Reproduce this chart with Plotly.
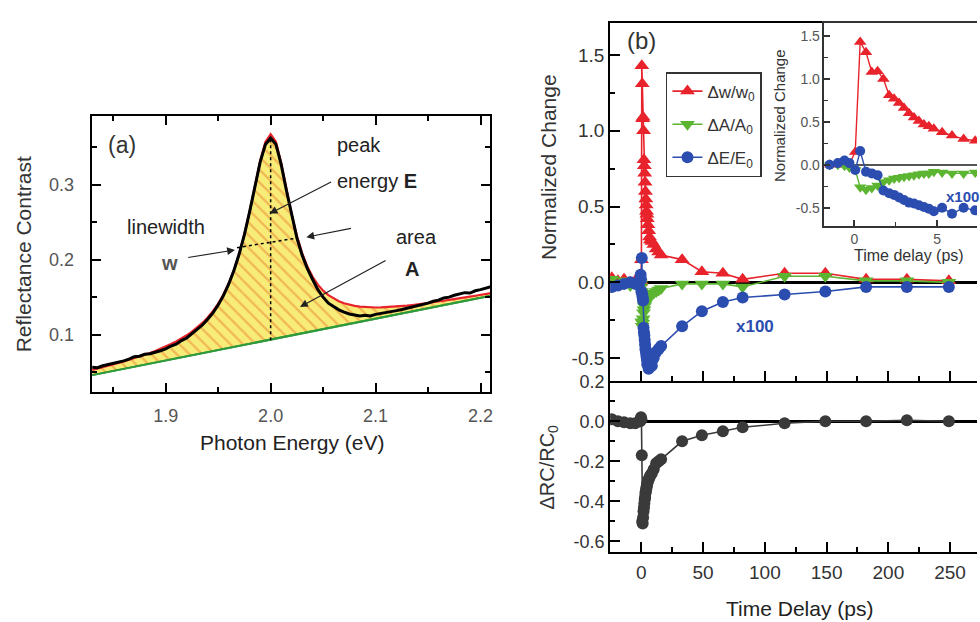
import numpy as np
import plotly.graph_objects as go

# ---------------- Panel (a) data ----------------
energy = np.round(np.linspace(1.83, 2.21, 77), 4)
rc_data = [0.0565, 0.0560, 0.0585, 0.0600, 0.0615, 0.0640, 0.0650, 0.0672, 0.0705, 0.0712,
           0.0738, 0.0745, 0.0760, 0.0785, 0.0810, 0.0848, 0.0872, 0.0920, 0.0955, 0.1010,
           0.1065, 0.1128, 0.1205, 0.1290, 0.1395, 0.1520, 0.1672, 0.1855, 0.2075, 0.2335,
           0.2640, 0.2975, 0.3300, 0.3535, 0.3620,
           0.3540, 0.3270, 0.2925, 0.2585, 0.2290, 0.2060, 0.1880, 0.1735, 0.1600, 0.1500,
           0.1420, 0.1375, 0.1330, 0.1300, 0.1275, 0.1262, 0.1250, 0.1258, 0.1248, 0.1270,
           0.1280, 0.1295, 0.1300, 0.1320, 0.1335, 0.1350, 0.1365, 0.1385, 0.1400, 0.1420,
           0.1445, 0.1460, 0.1490, 0.1500, 0.1525, 0.1540, 0.1560, 0.1555, 0.1585, 0.1600,
           0.1615, 0.1640]
rc_fit = [0.0528, 0.0545, 0.0564, 0.0583, 0.0602, 0.0622, 0.0642, 0.0663, 0.0685, 0.0708,
          0.0731, 0.0756, 0.0783, 0.0811, 0.0841, 0.0874, 0.0909, 0.0948, 0.0991, 0.1039,
          0.1094, 0.1156, 0.1228, 0.1313, 0.1414, 0.1534, 0.1681, 0.1859, 0.2077, 0.2340,
          0.2647, 0.2986, 0.3316, 0.3569, 0.3674,
          0.3574, 0.3297, 0.2946, 0.2607, 0.2318, 0.2087, 0.1908, 0.1771, 0.1667, 0.1587,
          0.1526, 0.1480, 0.1445, 0.1418, 0.1397, 0.1383, 0.1373, 0.1367, 0.1363, 0.1362,
          0.1363, 0.1366, 0.1369, 0.1374, 0.1381, 0.1387, 0.1395, 0.1403, 0.1412, 0.1421,
          0.1431, 0.1441, 0.1452, 0.1463, 0.1472, 0.1484, 0.1495, 0.1507, 0.1519, 0.1531,
          0.1543, 0.1555]
base_x = [1.83, 2.21]
base_y = [0.046, 0.152]

# ---------------- Panel (b) data ----------------
t_ps = [-24, -19, -14, -9, -5, -1.5, -1.0, -0.6, -0.3, 0.05, 0.35, 0.7, 1.05, 1.4, 1.75,
        2.1, 2.4, 2.7, 3.0, 3.3, 3.6, 3.9, 4.2, 4.5, 4.8, 5.3, 5.9, 6.6, 7.3,
        8.5, 10, 12, 14, 16, 33, 49, 66, 82, 116, 149, 182, 215, 249]
dw = [0.03, 0.01, 0.02, 0.0, 0.01, 0.0, 0.01, 0.0, 0.01, 0.15, 1.43, 1.31, 1.08, 1.09, 1.0,
      0.81, 0.77, 0.72, 0.66, 0.6, 0.55, 0.51, 0.47, 0.45, 0.42, 0.38, 0.34, 0.30, 0.28,
      0.27, 0.25, 0.22, 0.2, 0.18, 0.15, 0.07, 0.06, 0.02, 0.06, 0.06, 0.02, 0.02, 0.01]
dA = [0.02, -0.01, 0.01, -0.02, 0.0, 0.0, 0.0, -0.01, -0.03, -0.06, -0.26, -0.29, -0.27, -0.24, -0.2,
      -0.18, -0.16, -0.15, -0.14, -0.13, -0.12, -0.11, -0.1, -0.1, -0.08, -0.09, -0.1, -0.1, -0.09,
      -0.08, -0.07, -0.06, -0.05, -0.04, -0.01, -0.01, -0.01, -0.03, 0.04, 0.04, 0.01, 0.01, 0.0]
dE = [-0.03, -0.02, -0.01, 0.0, -0.01, 0.0, 0.02, 0.05, 0.02, -0.06, 0.16, -0.08, -0.1, -0.12, -0.3,
      -0.33, -0.35, -0.38, -0.41, -0.44, -0.45, -0.47, -0.49, -0.51, -0.54, -0.5, -0.57, -0.5, -0.53,
      -0.55, -0.5, -0.46, -0.44, -0.42, -0.29, -0.19, -0.13, -0.1, -0.08, -0.06, -0.03, -0.03, -0.03]
dRC = [0.01, 0.0, -0.005, -0.01, -0.01, 0.0, 0.0, 0.01, 0.02, 0.01, -0.17, -0.5, -0.51, -0.48, -0.45,
       -0.43, -0.41, -0.39, -0.38, -0.36, -0.35, -0.34, -0.33, -0.32, -0.31, -0.3, -0.29, -0.28, -0.27,
       -0.26, -0.24, -0.21, -0.2, -0.19, -0.1, -0.07, -0.05, -0.03, -0.01, 0.0, 0.0, 0.005, 0.0]

RED, GREEN, BLUE, DARK = "#e8232b", "#5cb531", "#2c4db0", "#3a3a3a"
FONT = "Liberation Sans, Arial, sans-serif"
W, H = 980, 622

def px(x):
    return x / W

def py(y):
    return 1 - y / H

fig = go.Figure()

# ---- panel (a) ----
fig.add_trace(go.Scatter(x=base_x, y=base_y, mode="lines", line=dict(color="#2f9a3c", width=2),
                         xaxis="x", yaxis="y", showlegend=False, hoverinfo="skip"))
fig.add_trace(go.Scatter(x=energy, y=rc_fit, mode="lines", line=dict(color=RED, width=2.2),
                         fill="tonexty", fillcolor="#f8ec78",
                         fillpattern=dict(shape="\\", bgcolor="#f8ec78", fgcolor="#e97f2e",
                                          size=9, solidity=0.25),
                         xaxis="x", yaxis="y", showlegend=False))
fig.add_trace(go.Scatter(x=energy, y=rc_data, mode="lines", line=dict(color="black", width=3),
                         xaxis="x", yaxis="y", showlegend=False))
fig.add_trace(go.Scatter(x=base_x, y=base_y, mode="lines", line=dict(color="#2f9a3c", width=2),
                         xaxis="x", yaxis="y", showlegend=False))

# ---- panel (b) upper ----
fig.add_trace(go.Scatter(x=t_ps, y=dw, mode="lines+markers", name="\u0394w/w<sub>0</sub>",
                         line=dict(color=RED, width=1.6), marker=dict(symbol="triangle-up", size=13, color=RED),
                         xaxis="x2", yaxis="y2", legendgroup="a"))
fig.add_trace(go.Scatter(x=t_ps, y=dA, mode="lines+markers", name="\u0394A/A<sub>0</sub>",
                         line=dict(color=GREEN, width=1.6), marker=dict(symbol="triangle-down", size=13, color=GREEN),
                         xaxis="x2", yaxis="y2", legendgroup="b"))
fig.add_trace(go.Scatter(x=t_ps, y=dE, mode="lines+markers", name="\u0394E/E<sub>0</sub>",
                         line=dict(color=BLUE, width=1.6), marker=dict(symbol="circle", size=12, color=BLUE),
                         xaxis="x2", yaxis="y2", legendgroup="c"))

# ---- panel (b) lower ----
fig.add_trace(go.Scatter(x=t_ps, y=dRC, mode="lines+markers", line=dict(color=DARK, width=1.6),
                         marker=dict(symbol="circle", size=12, color=DARK),
                         xaxis="x3", yaxis="y3", showlegend=False))

# ---- inset ----
for yy, col, sym, sz in [(dw, RED, "triangle-up", 11), (dA, GREEN, "triangle-down", 11), (dE, BLUE, "circle", 10)]:
    fig.add_trace(go.Scatter(x=t_ps, y=yy, mode="lines+markers", line=dict(color=col, width=1.4),
                             marker=dict(symbol=sym, size=sz, color=col),
                             xaxis="x4", yaxis="y4", showlegend=False))

tickfont_a = dict(family=FONT, size=18, color="#555555")
tickfont_b = dict(family=FONT, size=19, color="#333333")
tickfont_i = dict(family=FONT, size=14, color="#555555")

common = dict(showgrid=False, zeroline=False, showline=True, linecolor="black", linewidth=2,
              ticks="inside", tickwidth=2, tickcolor="black")

layout = dict(
    width=W, height=H, margin=dict(l=0, r=0, t=0, b=0),
    paper_bgcolor="white", plot_bgcolor="rgba(0,0,0,0)",
    font=dict(family=FONT, color="#333333"),
    xaxis=dict(domain=[px(92), px(492)], range=[1.8295, 2.2095], anchor="y",
               tickvals=[1.9, 2.0, 2.1, 2.2], ticktext=["1.9", "2.0", "2.1", "2.2"],
               ticklen=9, mirror="ticks", tickfont=tickfont_a, ticklabelstandoff=6,
               minor=dict(tickvals=[1.85, 1.95, 2.05, 2.15], ticklen=5, tickwidth=1.5,
                          ticks="inside", tickcolor="black"), **common),
    yaxis=dict(domain=[py(389), py(109)], range=[0.023, 0.391], anchor="x",
               tickvals=[0.1, 0.2, 0.3], ticktext=["0.1", "0.2", "0.3"],
               ticklen=9, mirror="ticks", tickfont=tickfont_a, ticklabelstandoff=12,
               minor=dict(tickvals=[0.05, 0.15, 0.25, 0.35], ticklen=5, tickwidth=1.5,
                          ticks="inside", tickcolor="black"), **common),
    xaxis2=dict(domain=[px(612), 1.0], range=[-25.3, 271.8], anchor="y2",
                tickvals=[0, 50, 100, 150, 200, 250], showticklabels=False, ticklen=10, mirror=True,
                minor=dict(tickvals=[-25, 25, 75, 125, 175, 225], ticklen=5, tickwidth=2,
                           ticks="inside", tickcolor="black"), **common),
    yaxis2=dict(domain=[py(377), py(14)], range=[-0.648, 1.713], anchor="x2",
                tickvals=[-0.5, 0, 0.5, 1.0, 1.5], ticktext=["-0.5", "0.0", "0.5", "1.0", "1.5"],
                ticklen=10, tickfont=tickfont_b,
                minor=dict(tickvals=[-0.25, 0.25, 0.75, 1.25], ticklen=5, tickwidth=2,
                           ticks="inside", tickcolor="black"), **common),
    xaxis3=dict(domain=[px(612), 1.0], range=[-25.3, 271.8], anchor="y3",
                tickvals=[0, 50, 100, 150, 200, 250], ticktext=["0", "50", "100", "150", "200", "250"],
                ticklen=10, tickfont=tickfont_b, ticklabelstandoff=2,
                minor=dict(tickvals=[-25, 25, 75, 125, 175, 225], ticklen=5, tickwidth=2,
                           ticks="inside", tickcolor="black"), **common),
    yaxis3=dict(domain=[py(551), py(377)], range=[-0.653, 0.2035], anchor="x3",
                tickvals=[-0.6, -0.4, -0.2, 0.0, 0.2], ticktext=["-0.6", "-0.4", "-0.2", "0.0", "0.2"],
                ticklen=10, tickfont=dict(family=FONT, size=18, color="#333333"),
                minor=dict(tickvals=[-0.5, -0.3, -0.1, 0.1], ticklen=5, tickwidth=2,
                           ticks="inside", tickcolor="black"), **common),
    xaxis4=dict(domain=[px(827), 1.0], range=[-1.81, 7.41], anchor="y4",
                tickvals=[0, 5], ticktext=["0", "5"], ticklen=6, mirror=True, tickfont=tickfont_i,
                showgrid=False, zeroline=False, showline=True, linecolor="#333333", linewidth=1.5,
                ticks="inside", tickwidth=1.5, tickcolor="#333333",
                minor=dict(tickvals=[2.5], ticklen=4, tickwidth=1.2, ticks="inside", tickcolor="#333333")),
    yaxis4=dict(domain=[py(220), py(14)], range=[-0.71, 1.653], anchor="x4",
                tickvals=[-0.5, 0, 0.5, 1.0, 1.5], ticktext=["-0.5", "0.0", "0.5", "1.0", "1.5"],
                ticklen=6, tickfont=tickfont_i,
                showgrid=False, zeroline=True, zerolinecolor="#555555", zerolinewidth=1.5,
                showline=True, linecolor="#333333", linewidth=1.5,
                ticks="inside", tickwidth=1.5, tickcolor="#333333",
                minor=dict(tickvals=[-0.25, 0.25, 0.75, 1.25], ticklen=4, tickwidth=1.2,
                           ticks="inside", tickcolor="#333333")),
    legend=dict(x=px(668), y=py(64), xanchor="left", yanchor="top", bgcolor="white",
                bordercolor="#333333", borderwidth=1.5, tracegroupgap=8,
                font=dict(family=FONT, size=17, color="#333333"), itemwidth=30),
    showlegend=True,
)
layout["yaxis2"]["zeroline"] = True
layout["yaxis2"]["zerolinecolor"] = "black"
layout["yaxis2"]["zerolinewidth"] = 2.5
layout["yaxis3"]["zeroline"] = True
layout["yaxis3"]["zerolinecolor"] = "black"
layout["yaxis3"]["zerolinewidth"] = 2.5
fig.update_layout(**layout)

# dotted guide lines in panel (a)
fig.add_shape(type="line", xref="x", yref="y", x0=2.0, x1=2.0, y0=0.0925, y1=0.362,
              line=dict(color="black", width=1.5, dash="dot"))
fig.add_shape(type="line", xref="x", yref="y", x0=1.968, x1=2.026, y0=0.216, y1=0.229,
              line=dict(color="black", width=1.5, dash="dot"))

# arrows in panel (a)
arrows = [((1.999, 0.2614), (2.059, 0.3046)),
          ((2.034, 0.230), (2.078, 0.242)),
          ((1.966, 0.213), (1.920, 0.2025)),
          ((2.028, 0.137), (2.111, 0.200))]
for (hx, hy), (tx, ty) in arrows:
    fig.add_annotation(x=hx, y=hy, ax=tx, ay=ty, xref="x", yref="y", axref="x", ayref="y",
                       text="", showarrow=True, arrowhead=2, arrowsize=1.3, arrowwidth=1.2,
                       arrowcolor="#222222")

def txt(x, y, s, size, color="#222222", xanchor="center", angle=0, ref="paper"):
    if ref == "paper":
        fig.add_annotation(x=px(x), y=py(y), xref="paper", yref="paper", text=s, showarrow=False,
                           font=dict(family=FONT, size=size, color=color), xanchor=xanchor,
                           yanchor="middle", textangle=angle)
    else:
        fig.add_annotation(x=x, y=y, xref="x", yref="y", text=s, showarrow=False,
                           font=dict(family=FONT, size=size, color=color), xanchor=xanchor,
                           yanchor="middle", textangle=angle)

# panel (a) texts
txt(1.858, 0.353, "(a)", 23, "#333333", ref="data")
txt(2.061, 0.353, "peak", 20, "#222222", xanchor="left", ref="data")
txt(2.061, 0.3046, "energy <b>E</b>", 20, "#222222", xanchor="left", ref="data")
txt(1.900, 0.243, "linewidth", 20, "#222222", ref="data")
txt(1.904, 0.196, "<b>w</b>", 20, "#555555", ref="data")
txt(2.139, 0.230, "area", 20, "#222222", ref="data")
txt(2.135, 0.187, "<b>A</b>", 20, "#222222", ref="data")
txt(23, 249, "Reflectance Contrast", 21, "#333333", angle=-90)
txt(293, 440, "Photon Energy (eV)", 21, "#222222")

# panel (b) texts
txt(643, 32, "(b)", 24, "#333333")
txt(550, 160, "Normalized Change", 21, "#333333", angle=-90)
txt(550, 465, "\u0394RC/RC<sub>0</sub>", 20, "#333333", angle=-90)
txt(802, 608, "Time Delay (ps)", 21, "#222222")
txt(757, 322, "<b>x100</b>", 17, BLUE)
txt(947, 190, "<b>x100</b>", 15, BLUE, xanchor="left")
txt(782, 108, "Normalized Change", 15, "#333333", angle=-90)
txt(912, 250, "Time delay (ps)", 16, "#333333")

fig.write_html("out.html", config={"displayModeBar": False},
               post_script="document.body.style.margin='0px';")
